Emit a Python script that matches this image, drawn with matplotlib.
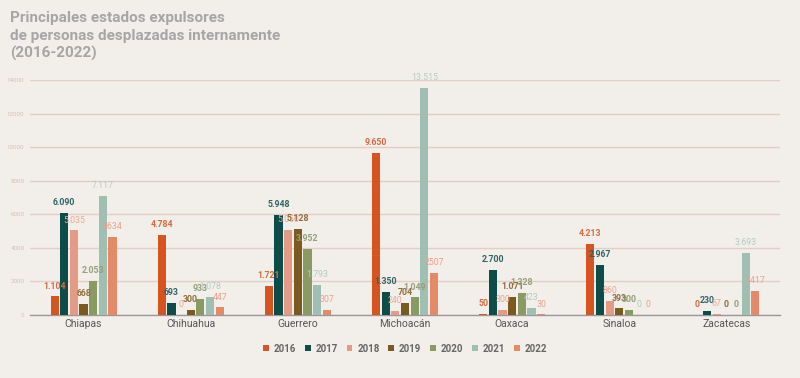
import matplotlib
matplotlib.use("Agg")
import matplotlib.pyplot as plt
import numpy as np

plt.rcParams['font.family'] = ['Roboto', 'DejaVu Sans']

estados = ["Chiapas", "Chihuahua", "Guerrero", "Michoacán", "Oaxaca", "Sinaloa", "Zacatecas"]
anios = ["2016", "2017", "2018", "2019", "2020", "2021", "2022"]
v2016 = [1104, 4784, 1721, 9650, 50, 4213, 0]
v2017 = [6090, 693, 5948, 1350, 2700, 2967, 230]
v2018 = [5035, 0, 5050, 240, 300, 860, 67]
v2019 = [668, 300, 5128, 704, 1071, 393, 0]
v2020 = [2053, 933, 3952, 1049, 1328, 300, 0]
v2021 = [7117, 1078, 1793, 13515, 423, 0, 3693]
v2022 = [4634, 447, 307, 2507, 30, 0, 1417]
series = [v2016, v2017, v2018, v2019, v2020, v2021, v2022]
yticks = [0, 2000, 4000, 6000, 8000, 10000, 12000, 14000]

colors = ["#D6541F", "#0C4D4A", "#E39B86", "#7A5A20", "#899A63", "#9EBFB1", "#E48A68"]
label_colors = ["#D86A3E", "#2E6465", "#E9A995", "#8E6E3A", "#93A079", "#B3CCC1", "#E9A088"]
bold = [True, True, False, True, True, False, False]
bg = "#F2EEEA"

fig = plt.figure(figsize=(8, 3.78), dpi=100, facecolor=bg)
ax = fig.add_axes([0.0375, 0.1667, 0.9375, 0.6217], facecolor=bg)

x = np.arange(len(estados))
step = 0.09
width = 0.077

def fmt(v, sep):
    s = f"{v:,}"
    return s.replace(",", "." if sep else "")

for i, vals in enumerate(series):
    off = (i - 3) * step
    ax.bar(x + off, vals, width=width, color=colors[i], label=anios[i], zorder=3)
    for xi, v in zip(x, vals):
        ax.text(xi + off, v + 350, fmt(v, i != 6), ha="center", va="bottom",
                fontsize=6.3, color=label_colors[i],
                fontweight="bold" if bold[i] else "normal", zorder=4)

ax.set_xlim(-0.5, 6.5)
ax.set_ylim(0, 14000)
ax.set_yticks(yticks)
ax.set_yticklabels([str(t) for t in yticks], fontsize=4.5, color="#D9C0B3")
ax.grid(axis="y", color="#E4CEC2", linewidth=1, zorder=0)
ax.tick_params(axis="y", length=0, pad=4)
ax.tick_params(axis="x", length=0, pad=3)
ax.set_xticks(x)
ax.set_xticklabels(estados, fontsize=7.5, color="#555555")
for s in ["top", "right", "left"]:
    ax.spines[s].set_visible(False)
ax.spines["bottom"].set_color("#999999")
ax.spines["bottom"].set_linewidth(1)

fig.text(0.0125, 0.97, "Principales estados expulsores\nde personas desplazadas internamente\n(2016-2022)",
         ha="left", va="top", fontsize=11, fontweight="bold", color="#A6A6A6", linespacing=1.3)

leg = ax.legend(loc="upper center", bbox_to_anchor=(0.5, -0.085), ncol=7, frameon=False,
                fontsize=7, handlelength=0.6, handleheight=0.6, handletextpad=0.5,
                columnspacing=0.9)
for t in leg.get_texts():
    t.set_color("#666666")
    t.set_fontweight("bold")

fig.savefig("out.png", dpi=100, facecolor=bg)
